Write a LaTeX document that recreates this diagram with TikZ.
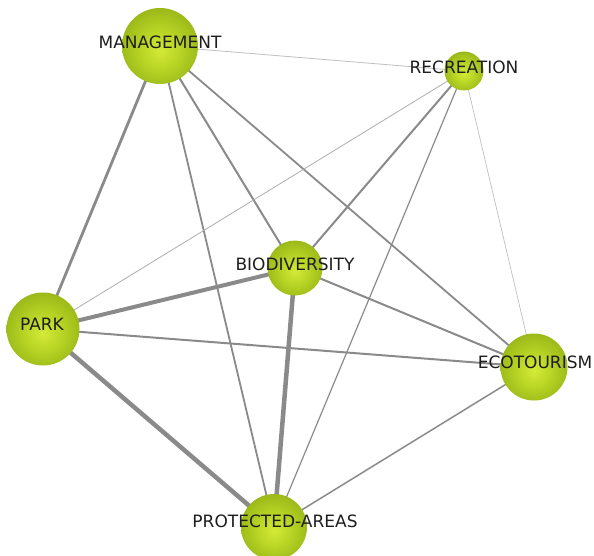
\documentclass[tikz,border=0pt]{standalone}
\usepackage{fontspec}
\setmainfont{DejaVu Sans}
\definecolor{limeA}{HTML}{D4EA38}
\definecolor{limeB}{HTML}{BAD626}
\definecolor{limeC}{HTML}{98B618}
\definecolor{oliveA}{HTML}{789212}
\definecolor{oliveB}{HTML}{5A6E0A}
\definecolor{oliveC}{HTML}{4A5C08}
\definecolor{edgegray}{HTML}{8A8A8A}
\definecolor{labelgray}{HTML}{1E1E1E}
% sphere-like fill with the bright spot slightly below centre
\pgfdeclareradialshading{sphere}{\pgfpoint{0bp}{-3bp}}{%
  color(0bp)=(limeA); color(12bp)=(limeB); color(28bp)=(limeC);
  color(40bp)=(oliveA); color(48bp)=(oliveB); color(54bp)=(oliveC); color(60bp)=(oliveC)}
\tikzset{
  ball/.style={circle, inner sep=0pt, minimum size=#1, shading=sphere},
  lbl/.style={font=\fontsize{17}{19}\selectfont, text=labelgray, inner sep=0pt},
  link/.style={draw=edgegray, line width=#1},
}
\begin{document}
\begin{tikzpicture}[x=1pt, y=-1pt]
\useasboundingbox (0,0) rectangle (594,556);
% coordinates of the spheres
\coordinate (man) at (160,46);
\coordinate (rec) at (464,71);
\coordinate (bio) at (295,268);
\coordinate (park) at (43,329);
\coordinate (eco) at (534,367);
\coordinate (pa) at (274,527);
% connectors, drawn beneath the spheres
\draw[link=0.8pt, draw=edgegray!55] (man) -- (rec);
\draw[link=2.8pt] (man) -- (park);
\draw[link=2pt] (man) -- (bio);
\draw[link=1.8pt] (man) -- (pa);
\draw[link=1.8pt] (man) -- (eco);
\draw[link=0.8pt, draw=edgegray!70] (rec) -- (park);
\draw[link=2pt] (rec) -- (bio);
\draw[link=1.2pt] (rec) -- (pa);
\draw[link=0.7pt, draw=edgegray!55] (rec) -- (eco);
\draw[link=4pt] (bio) -- (park);
\draw[link=2pt] (bio) -- (eco);
\draw[link=4.5pt] (bio) -- (pa);
\draw[link=2pt] (park) -- (eco);
\draw[link=4.5pt] (park) -- (pa);
\draw[link=1.5pt] (eco) -- (pa);
% spheres
\node[ball=76pt] (nman) at (man) {};
\node[ball=39pt] (nrec) at (rec) {};
\node[ball=55pt] (nbio) at (bio) {};
\node[ball=73pt] (npark) at (park) {};
\node[ball=67pt] (neco) at (eco) {};
\node[ball=66pt] (npa) at (pa) {};
% labels
\node[lbl] (tman) at (160,42) {MANAGEMENT};
\node[lbl] (trec) at (464,67) {RECREATION};
\node[lbl] (tbio) at (295,264) {BIODIVERSITY};
\node[lbl] (tpark) at (42,324) {PARK};
\node[lbl] (teco) at (535,362) {ECOTOURISM};
\node[lbl] (tpa) at (275,521) {PROTECTED-AREAS};
\end{tikzpicture}
\end{document}
